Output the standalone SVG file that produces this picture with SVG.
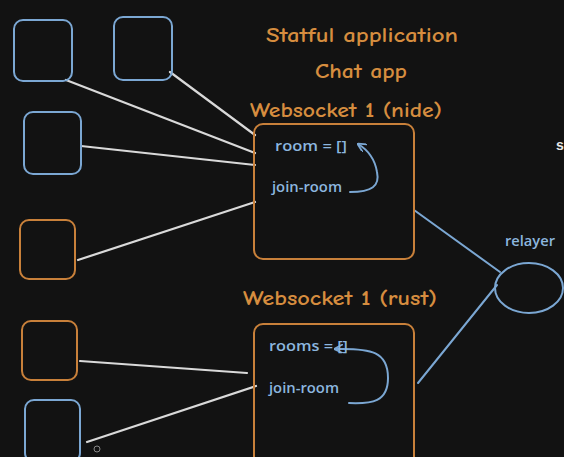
<svg xmlns="http://www.w3.org/2000/svg" width="564" height="457" viewBox="0 0 564 457">
<defs>
<style>
.bg{fill:#121212}
.bx{fill:none;stroke-width:2}
.b{stroke:#7ba7d3}
.o{stroke:#c8803a}
.wl{stroke:#d9d9d9;stroke-width:2.2;fill:none;stroke-linecap:round}
.bl{stroke:#7ba7d3;stroke-width:2;fill:none;stroke-linecap:round}
.to{fill:#d68d3f;font-family:"Comic Neue","Open Sans","Liberation Sans",sans-serif;font-size:20px;font-weight:600}
.tb{fill:#8cb6df;font-family:"Open Sans","Liberation Sans",sans-serif;font-size:14px;font-weight:600}
</style>
<marker id="ah" viewBox="0 0 10 10" refX="9" refY="5" markerWidth="9" markerHeight="9" orient="auto" markerUnits="userSpaceOnUse">
<path d="M0,0 L10,5 L0,10" fill="none" stroke="#7ba7d3" stroke-width="2"/>
</marker>
</defs>
<rect class="bg" x="0" y="0" width="564" height="457"/>

<g id="connectors">
<line class="wl" x1="66" y1="80" x2="255" y2="153"/>
<line class="wl" x1="170" y1="72" x2="255" y2="135"/>
<line class="wl" x1="81" y1="146" x2="255" y2="165"/>
<line class="wl" x1="78" y1="260" x2="255" y2="202"/>
<line class="wl" x1="80" y1="361" x2="247" y2="373"/>
<line class="wl" x1="87" y1="442" x2="256" y2="386"/>
<line class="bl" x1="414" y1="210" x2="500" y2="272"/>
<line class="bl" x1="418" y1="383" x2="497" y2="285"/>
<path class="bl" d="M350,192 C372,192 380,186 377,172 C375,160 368,150 358,144" marker-end="url(#ah)"/>
<path class="bl" d="M349,403 C372,404 388,402 388,378 C388,352 372,348 335,349" marker-end="url(#ah)"/>
</g>

<g id="client1"><rect class="bx b" x="14" y="20" width="58" height="61" rx="9"/></g>
<g id="client2"><rect class="bx b" x="114" y="17" width="58" height="63" rx="9"/></g>
<g id="client3"><rect class="bx b" x="24" y="112" width="57" height="62" rx="9"/></g>
<g id="client4"><rect class="bx o" x="20" y="220" width="55" height="59" rx="9"/></g>
<g id="client5"><rect class="bx o" x="22" y="321" width="55" height="59" rx="9"/></g>
<g id="client6"><rect class="bx b" x="25" y="400" width="55" height="62" rx="9"/></g>

<g id="titles">
<text class="to" x="362" y="42" text-anchor="middle" textLength="192" lengthAdjust="spacingAndGlyphs">Statful application</text>
<text class="to" x="361" y="78" text-anchor="middle" textLength="92" lengthAdjust="spacingAndGlyphs">Chat app</text>
</g>

<g id="ws1">
<text class="to" x="346" y="117" text-anchor="middle" textLength="192" lengthAdjust="spacingAndGlyphs">Websocket 1 (nide)</text>
<rect class="bx o" x="254" y="124" width="160" height="135" rx="9"/>
<text class="tb" x="275" y="151" textLength="72" lengthAdjust="spacingAndGlyphs">room = []</text>
<text class="tb" x="272" y="192" textLength="70" lengthAdjust="spacingAndGlyphs">join-room</text>
</g>

<g id="ws2">
<text class="to" x="340" y="305" text-anchor="middle" textLength="194" lengthAdjust="spacingAndGlyphs">Websocket 1 (rust)</text>
<rect class="bx o" x="254" y="324" width="160" height="145" rx="9"/>
<text class="tb" x="269" y="351" textLength="79" lengthAdjust="spacingAndGlyphs">rooms = []</text>
<text class="tb" x="269" y="393" textLength="70" lengthAdjust="spacingAndGlyphs">join-room</text>
</g>

<g id="relayer">
<text class="tb" x="530" y="246" text-anchor="middle" textLength="50" lengthAdjust="spacingAndGlyphs">relayer</text>
<ellipse class="bx b" cx="529" cy="288" rx="34" ry="25"/>
</g>

<text x="556" y="150" fill="#e8e8e8" font-family="Liberation Sans, sans-serif" font-size="14" font-weight="bold">s</text>
<circle cx="97" cy="449" r="3" fill="none" stroke="#888" stroke-width="1"/>
</svg>
